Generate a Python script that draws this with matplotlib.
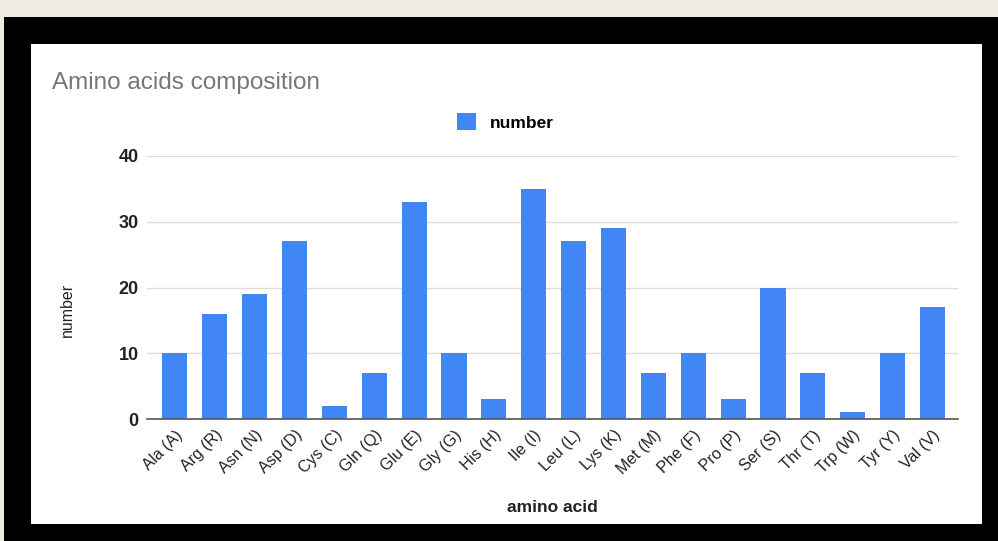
import matplotlib
matplotlib.use("Agg")
import matplotlib.pyplot as plt
from matplotlib.patches import Rectangle
from matplotlib.transforms import ScaledTranslation

categories = ["Ala (A)", "Arg (R)", "Asn (N)", "Asp (D)", "Cys (C)", "Gln (Q)",
              "Glu (E)", "Gly (G)", "His (H)", "Ile (I)", "Leu (L)", "Lys (K)",
              "Met (M)", "Phe (F)", "Pro (P)", "Ser (S)", "Thr (T)", "Trp (W)",
              "Tyr (Y)", "Val (V)"]
counts = [10, 16, 19, 27, 2, 7, 33, 10, 3, 35, 27, 29, 7, 10, 3, 20, 7, 1, 10, 17]
y_ticks = [0, 10, 20, 30, 40]

plt.rcParams['font.family'] = ['Liberation Sans', 'DejaVu Sans']

W, H = 998, 541
fig = plt.figure(figsize=(W / 100, H / 100), dpi=100, facecolor="#eeebe1")

# black frame and white card behind the chart
fig.patches.append(Rectangle((4 / W, 0), 1 - 4 / W, (H - 17) / H,
                             transform=fig.transFigure, facecolor="black",
                             edgecolor="none", zorder=-2))
fig.patches.append(Rectangle((31 / W, (H - 524) / H), (982 - 31) / W, (524 - 44) / H,
                             transform=fig.transFigure, facecolor="white",
                             edgecolor="none", zorder=-1))

ax = fig.add_axes([147 / W, (H - 419) / H, (958 - 147) / W, (419 - 156) / H])
ax.set_zorder(1)
ax.set_facecolor("none")
x = range(len(categories))
ax.bar(x, counts, width=0.63, color="#4285f4", zorder=3, label="number")
ax.set_xlim(-0.7, len(categories) - 0.36)
ax.set_ylim(0, 40)
ax.set_yticks(y_ticks)
ax.set_yticklabels([str(v) for v in y_ticks], fontsize=13, color="#222222",
                   fontweight="bold")
ax.set_xticks(list(x))
ax.set_xticklabels(categories, rotation=45, ha="right", rotation_mode="anchor",
                   fontsize=11.5, color="#222222")
shift = ScaledTranslation(10 / 100, -3 / 100, fig.dpi_scale_trans)
for lbl in ax.get_xticklabels():
    lbl.set_transform(lbl.get_transform() + shift)
ax.tick_params(axis="y", length=0, pad=6)
ax.tick_params(axis="x", length=0, pad=6)
ax.grid(axis="y", color="#dddddd", linewidth=1, zorder=0)
for s in ["top", "right", "left"]:
    ax.spines[s].set_visible(False)
ax.spines["bottom"].set_color("#555555")
ax.spines["bottom"].set_linewidth(1.2)
ax.spines["bottom"].set_zorder(4)

fig.text(52 / W, 1 - 83 / H, "Amino acids composition", fontsize=17.5,
         color="#777777", va="center", ha="left")
fig.text(67 / W, 1 - 310 / H, "number", fontsize=11.5, color="#222222",
         rotation=90, va="center", ha="center")
fig.text(552 / W, 1 - 507 / H, "amino acid", fontsize=12.5, color="#222222",
         fontweight="bold", va="center", ha="center")

fig.legend(loc="center", bbox_to_anchor=(505 / W, 1 - 122 / H), frameon=False,
           handlelength=1.1, handleheight=1.1, handletextpad=0.8,
           prop={"weight": "bold", "size": 12.5})

fig.savefig("out.png", dpi=100, facecolor=fig.get_facecolor())
